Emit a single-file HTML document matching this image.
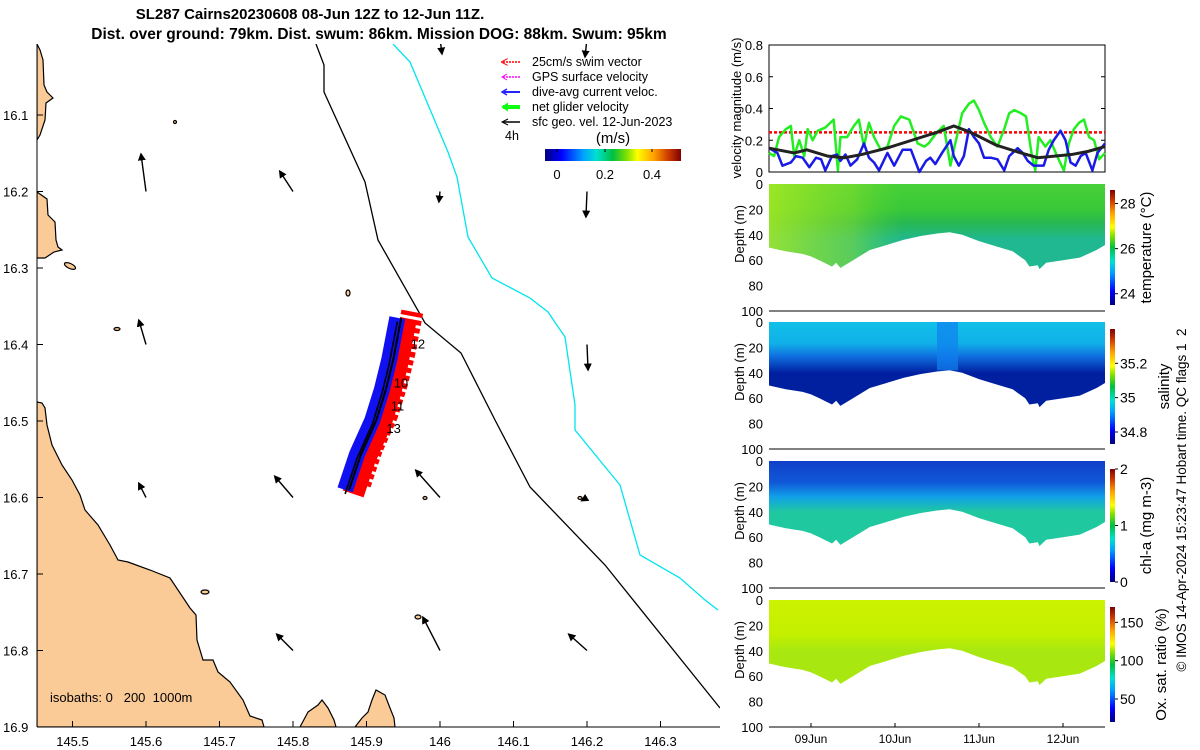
<!DOCTYPE html>
<html><head><meta charset="utf-8"><style>
html,body{margin:0;padding:0;background:#fff;}
svg{display:block;font-family:"Liberation Sans","DejaVu Sans",sans-serif;}
</style></head><body>
<svg id="fig" width="1200" height="750" viewBox="0 0 1200 750" xmlns="http://www.w3.org/2000/svg">
<defs>
<linearGradient id="jetH" x1="0" y1="0" x2="1" y2="0">
<stop offset="0" stop-color="#00007f"/><stop offset="0.12" stop-color="#0000ff"/><stop offset="0.28" stop-color="#00a0ff"/><stop offset="0.38" stop-color="#00e0d0"/><stop offset="0.5" stop-color="#00c040"/><stop offset="0.6" stop-color="#80e000"/><stop offset="0.68" stop-color="#ffff00"/><stop offset="0.8" stop-color="#ffa000"/><stop offset="0.9" stop-color="#d04000"/><stop offset="1" stop-color="#800000"/>
</linearGradient>
<linearGradient id="jetV" x1="0" y1="1" x2="0" y2="0">
<stop offset="0" stop-color="#00007f"/><stop offset="0.12" stop-color="#0000ff"/><stop offset="0.28" stop-color="#00a0ff"/><stop offset="0.38" stop-color="#00e0d0"/><stop offset="0.5" stop-color="#00c040"/><stop offset="0.6" stop-color="#80e000"/><stop offset="0.68" stop-color="#ffff00"/><stop offset="0.8" stop-color="#ffa000"/><stop offset="0.9" stop-color="#d04000"/><stop offset="1" stop-color="#800000"/>
</linearGradient>
<linearGradient id="gTemp" x1="0" y1="0" x2="0" y2="1"><stop offset="0" stop-color="#48d038"/><stop offset="0.3" stop-color="#38c838"/><stop offset="0.45" stop-color="#28b850"/><stop offset="0.65" stop-color="#20b890"/></linearGradient>
<linearGradient id="gTempH" x1="0" y1="0" x2="1" y2="0"><stop offset="0" stop-color="#b0ec20" stop-opacity="0.8"/><stop offset="0.25" stop-color="#90e028" stop-opacity="0.5"/><stop offset="0.4" stop-color="#60d830" stop-opacity="0"/><stop offset="1" stop-color="#60d830" stop-opacity="0"/></linearGradient>
<linearGradient id="gSal" x1="0" y1="0" x2="0" y2="1"><stop offset="0" stop-color="#10c0e8"/><stop offset="0.25" stop-color="#10b0e8"/><stop offset="0.4" stop-color="#1070e0"/><stop offset="0.6" stop-color="#0020a0"/></linearGradient>
<linearGradient id="gChl" x1="0" y1="0" x2="0" y2="1"><stop offset="0" stop-color="#1040c8"/><stop offset="0.25" stop-color="#1058d8"/><stop offset="0.42" stop-color="#10a0e8"/><stop offset="0.6" stop-color="#20c8a0"/></linearGradient>
<linearGradient id="gOx" x1="0" y1="0" x2="0" y2="1"><stop offset="0" stop-color="#ccf200"/><stop offset="0.4" stop-color="#c4f000"/><stop offset="0.6" stop-color="#a8e810"/></linearGradient>
<clipPath id="mapClip"><rect x="37" y="44" width="683" height="683"/></clipPath>
<marker id="ahK" markerWidth="8" markerHeight="8" refX="6" refY="4" orient="auto" markerUnits="userSpaceOnUse"><path d="M0,0 L8,4 L0,8 z" fill="#000"/></marker>
<marker id="ahR" markerWidth="7" markerHeight="7" refX="5" refY="3.5" orient="auto" markerUnits="userSpaceOnUse"><path d="M0,0 L7,3.5 L0,7" fill="none" stroke="#f00"/></marker>
</defs>

<text x="310" y="19" font-size="15" font-weight="bold" text-anchor="middle">SL287 Cairns20230608 08-Jun 12Z to 12-Jun 11Z.</text>
<text x="379" y="39" font-size="15.5" font-weight="bold" text-anchor="middle">Dist. over ground: 79km. Dist. swum: 86km. Mission DOG: 88km. Swum: 95km</text>

<g id="map">
<g clip-path="url(#mapClip)">
<g fill="#fbcb97" stroke="#000" stroke-width="1.2">
<path d="M37,44 L40,50 L43,60 L44,85 L47,92 L53,98 L46,103 L45,120 L40,135 L37,140 Z"/>
<path d="M37,192 L47,199 L48,215 L55,222 L56,240 L58,247 L62,250 L54,252 L45,258 L37,258 Z"/>
<ellipse cx="70" cy="266" rx="6" ry="2.5" transform="rotate(25 70 266)"/>
<path d="M37,402 L42,403 L45,408 L47,425 L52,445 L62,465 L72,480 L80,495 L85,510 L98,525 L110,545 L118,560 L128,562 L150,570 L170,578 L190,608 L196,615 L197,640 L203,660 L213,660 L218,672 L230,682 L243,700 L250,716 L262,720 L264,727 L37,727 Z"/>
<path d="M300,727 L308,712 L318,705 L322,700 L328,708 L334,720 L336,727 Z"/>
<path d="M355,727 L362,718 L368,712 L372,700 L376,690 L385,695 L390,708 L394,718 L395,727 Z"/>
<ellipse cx="205" cy="592" rx="4" ry="2"/><ellipse cx="175" cy="122" rx="1.5" ry="1.5"/><ellipse cx="348" cy="293" rx="2" ry="3"/><ellipse cx="117" cy="329" rx="3" ry="1.5"/><ellipse cx="418" cy="617" rx="3" ry="2"/><ellipse cx="425" cy="498" rx="2" ry="1.5"/><ellipse cx="580" cy="498" rx="2" ry="1.5"/>
</g>
<polyline fill="none" stroke="#000" stroke-width="1.3" points="316,44 324,65 324,92 365,182 378,240 425,323 461,353 495,420 530,487 605,565 720,708"/>
<polyline fill="none" stroke="#00e5ee" stroke-width="1.3" points="393,44 410,62 448,152 457,177 468,237 492,278 530,298 548,312 565,337 575,405 575,430 620,485 640,555 680,578 705,600 718,610"/>
<g id="geoArrows"></g>
<g id="track"></g>
</g>
<line x1="37" y1="44" x2="37" y2="727" stroke="#000"/>
<line x1="37" y1="727" x2="720" y2="727" stroke="#000"/>
<g id="mapTicks" font-size="13"></g>
<text x="50" y="702" font-size="13">isobaths: 0 &#160; 200 &#160;1000m</text>
<g font-size="12.5">
<g><line x1="520" y1="62" x2="503" y2="62" stroke="#f00" stroke-dasharray="2,1" stroke-width="1.5" marker-end="url(#ahR)"/><text x="532" y="66">25cm/s swim vector</text></g>
<g><line x1="520" y1="77" x2="503" y2="77" stroke="#f0f" stroke-dasharray="2,1" stroke-width="1.5"/><path d="M507,74 L502,77 L507,80" fill="none" stroke="#f0f"/><text x="532" y="81">GPS surface velocity</text></g>
<g><line x1="520" y1="92" x2="503" y2="92" stroke="#22f" stroke-width="2"/><path d="M507,89 L502,92 L507,95" fill="none" stroke="#22f" stroke-width="1.5"/><text x="532" y="96">dive-avg current veloc.</text></g>
<g><line x1="520" y1="107" x2="503" y2="107" stroke="#1f1" stroke-width="4"/><path d="M508,103 L502,107 L508,111" fill="#1f1" stroke="#1f1"/><text x="532" y="111">net glider velocity</text></g>
<g><line x1="520" y1="122" x2="503" y2="122" stroke="#000" stroke-width="1.5"/><path d="M508,119 L502,122 L508,125" fill="none" stroke="#000"/><text x="532" y="126">sfc geo. vel. 12-Jun-2023</text></g>
<text x="505" y="140">4h</text>
</g>
<text x="613" y="143" font-size="15" text-anchor="middle">(m/s)</text>
<rect x="545" y="149" width="136" height="12" fill="url(#jetH)"/>
<g font-size="13" text-anchor="middle">
<line x1="557" y1="149" x2="557" y2="152" stroke="#000"/><line x1="605" y1="149" x2="605" y2="152" stroke="#000"/><line x1="652" y1="149" x2="652" y2="152" stroke="#000"/>
<text x="557" y="179">0</text><text x="605" y="179">0.2</text><text x="652" y="179">0.4</text></g>
</g>

<g id="vel"></g>
<g id="sections"></g>
<text transform="translate(1186,500) rotate(-90)" font-size="13.5" text-anchor="middle">© IMOS 14-Apr-2024 15:23:47 Hobart time. QC flags 1 &#160;2</text>
</svg>
<script>
// ---------- data ----------
const mapLonTicks = [145.5,145.6,145.7,145.8,145.9,146,146.1,146.2,146.3];
const mapLatTicks = [16.1,16.2,16.3,16.4,16.5,16.6,16.7,16.8,16.9];
const geoLon = [145.6,145.8,146.0,146.2, 145.6,146.2, 145.6,145.8,146.0,146.2, 145.8,146.0,146.2, 146.0,146.2];
const geoLat = [16.2,16.2,16.2,16.2, 16.4,16.4, 16.6,16.6,16.6,16.6, 16.8,16.8,16.8, 16.0,16.0];
const geoU = [-0.033,-0.087,-0.007,-0.007, -0.047,0.007, -0.047,-0.12,-0.16,-0.033, -0.107,-0.113,-0.12, 0.013,-0.013];
const geoV = [0.247,0.133,-0.067,-0.167, 0.16,-0.167, 0.093,0.14,0.18,-0.02, 0.107,0.22,0.107, -0.1,-0.12];
const trackLon = [145.875,145.891,145.912,145.925,145.935,145.946];
const trackLat = [16.590,16.544,16.499,16.459,16.420,16.365];
const dayLabels = ['10','11','13','12'];
const dayLon = [145.937,145.933,145.927,145.96];
const dayLat = [16.456,16.486,16.516,16.405];

const velTicks = [0,0.2,0.4,0.6,0.8];
const greenT = [8.50,8.56,8.62,8.70,8.76,8.80,8.86,8.92,8.96,9.02,9.08,9.17,9.27,9.32,9.35,9.43,9.51,9.57,9.63,9.69,9.75,9.83,9.91,9.99,10.07,10.17,10.27,10.35,10.40,10.50,10.58,10.66,10.70,10.80,10.88,10.94,11.00,11.06,11.14,11.22,11.30,11.36,11.42,11.50,11.56,11.63,11.67,11.71,11.79,11.85,11.93,12.01,12.07,12.13,12.19,12.25,12.31,12.37,12.43,12.50];
const greenV = [0.12,0.10,0.22,0.27,0.29,0.10,0.20,0.10,0.27,0.20,0.26,0.28,0.33,0.01,0.22,0.22,0.29,0.33,0.16,0.31,0.22,0.14,0.16,0.29,0.35,0.33,0.18,0.16,0.18,0.25,0.29,0.04,0.14,0.37,0.43,0.45,0.39,0.31,0.22,0.16,0.27,0.37,0.39,0.37,0.35,0.10,0.01,0.22,0.16,0.20,0.10,0.01,0.18,0.27,0.31,0.33,0.22,0.20,0.08,0.12];
const blueT = [8.50,8.60,8.66,8.76,8.82,8.90,8.98,9.06,9.12,9.17,9.25,9.31,9.35,9.41,9.47,9.55,9.63,9.69,9.75,9.81,9.91,9.99,10.09,10.19,10.29,10.37,10.42,10.48,10.56,10.66,10.70,10.76,10.82,10.88,10.94,11.00,11.06,11.14,11.22,11.30,11.36,11.46,11.52,11.58,11.65,11.77,11.83,11.89,11.97,12.03,12.09,12.15,12.21,12.27,12.35,12.41,12.50];
const blueV = [0.15,0.12,0.04,0.06,0.10,0.09,0.03,0.09,0.08,0.01,0.10,0.11,0.07,0.11,0.04,0.08,0.18,0.09,0.06,0.01,0.12,0.04,0.14,0.14,0.00,0.07,0.09,0.05,0.12,0.20,0.10,0.04,0.10,0.27,0.22,0.18,0.09,0.09,0.08,0.01,0.10,0.15,0.12,0.07,0.04,0.04,0.14,0.20,0.26,0.20,0.06,0.04,0.10,0.12,0.01,0.12,0.18];
const geoT = [8.5,8.8,8.95,9.2,9.4,9.6,9.9,10.2,10.5,10.7,10.9,11.2,11.5,11.7,11.9,12.1,12.3,12.5];
const geoSpeed = [0.15,0.12,0.14,0.10,0.09,0.11,0.15,0.20,0.25,0.29,0.25,0.17,0.12,0.09,0.10,0.11,0.13,0.16];
const swimSpeed = [0.25,0.25];
const swimT = [8.5,12.5];

const bottomT = [8.5,8.7,8.9,9.0,9.1,9.25,9.3,9.35,9.5,9.7,9.9,10.1,10.3,10.5,10.65,10.8,11.0,11.2,11.4,11.55,11.6,11.7,11.72,11.8,12.0,12.2,12.4,12.5];
const bottomD = [50,53,55,57,60,65,62,66,60,52,48,44,41,39,38,40,45,49,53,60,65,64,67,62,60,58,52,48];
const depthTicks = [0,20,40,60,80,100];
const dateTicks = [9,10,11,12];
const dateLabels = ['09Jun','10Jun','11Jun','12Jun'];
const tempTicks = [28,26,24]; const tempRange = [23.5,28.6];
const salTicks = [35.2,35,34.8]; const salRange = [34.73,35.4];
const chlTicks = [2,1,0]; const chlRange = [0,2];
const oxTicks = [150,100,50]; const oxRange = [20,170];

// ---------- helpers ----------
const NS='http://www.w3.org/2000/svg';
function mk(tag, attrs, parent){const e=document.createElementNS(NS,tag);for(const k in attrs)e.setAttribute(k,attrs[k]);parent.appendChild(e);return e;}
const lonX = lon => 440 + (lon-146)*735;
const latY = lat => 115 + (lat-16.1)*765;

// map ticks
const mt=document.getElementById('mapTicks');
mapLonTicks.forEach(l=>{const x=lonX(l);
 const t=mk('line',{x1:x,y1:727,x2:x,y2:721,stroke:'#000'},mt);
 
 
 const s=mk('text',{x:x,y:746,'text-anchor':'middle'},mt);s.textContent=String(l);
 
 });
mapLatTicks.forEach(l=>{const y=latY(l);
 const t=mk('line',{x1:37,y1:y,x2:43,y2:y,stroke:'#000'},mt);
 
 
 const s=mk('text',{x:3,y:y+5},mt);s.textContent=l.toFixed(1);
 
 });

// geo arrows
const ga=document.getElementById('geoArrows');
geoLon.forEach((lon,i)=>{const x=lonX(lon),y=latY(geoLat[i]);
 const a=mk('line',{x1:x,y1:y,x2:x+geoU[i]*150,y2:y-geoV[i]*150,stroke:'#000','stroke-width':1.4,'marker-end':'url(#ahK)'},ga);
 
 });

// glider track
const tr=document.getElementById('track');
const tp=trackLon.map((l,i)=>[lonX(l),latY(trackLat[i])]);
const off=(dx,dy)=>tp.map(p=>(p[0]+dx)+','+(p[1]+dy)).join(' ');
const red=mk('polyline',{points:off(12,-6),fill:'none',stroke:'#f00','stroke-width':22,'stroke-linejoin':'round','stroke-dasharray':'5,3'},tr);


const red2=mk('polyline',{points:off(5,4),fill:'none',stroke:'#f00','stroke-width':22,'stroke-linejoin':'round'},tr);


const blue=mk('polyline',{points:off(-3,0),fill:'none',stroke:'#1010f0','stroke-width':16,'stroke-linejoin':'round'},tr);


const blk=mk('polyline',{points:off(1,0),fill:'none',stroke:'#000','stroke-width':2},tr);


const blk2=mk('polyline',{points:off(-3,4),fill:'none',stroke:'#000','stroke-width':1.6},tr);


dayLabels.forEach((d,i)=>{const t=mk('text',{x:lonX(dayLon[i]),y:latY(dayLat[i]),'font-size':13},tr);t.textContent=d;
 
 });

// ---------- right panels ----------
const X0=769,X1=1105;
const tX=t=>X0+(t-8.5)/4*(X1-X0);
const vel=document.getElementById('vel');
const VT=45,VB=172;
const vY=v=>VB-v/0.8*(VB-VT);
mk('rect',{x:X0,y:VT,width:X1-X0,height:VB-VT,fill:'#fff',stroke:'#000'},vel);
velTicks.forEach(v=>{const y=vY(v);
 mk('line',{x1:X0,y1:y,x2:X0+4,y2:y,stroke:'#000'},vel);mk('line',{x1:X1,y1:y,x2:X1-4,y2:y,stroke:'#000'},vel);
 const s=mk('text',{x:763,y:y+5,'font-size':13,'text-anchor':'end'},vel);s.textContent=v===0?'0':v.toFixed(1);
 
 });
const vt=mk('text',{transform:'translate(741,108) rotate(-90)','font-size':13,'text-anchor':'middle'},vel);vt.textContent='velocity magnitude (m/s)';


const pts=(T,V)=>T.map((t,i)=>tX(t)+','+vY(V[i])).join(' ');
const sw=mk('polyline',{points:pts(swimT,swimSpeed),fill:'none',stroke:'#f00','stroke-width':2.5,'stroke-dasharray':'3,2'},vel);


const gl=mk('polyline',{points:pts(greenT,greenV),fill:'none',stroke:'#22ee22','stroke-width':2.5,'stroke-linejoin':'round'},vel);


const bl=mk('polyline',{points:pts(blueT,blueV),fill:'none',stroke:'#1a1ae8','stroke-width':2.5,'stroke-linejoin':'round'},vel);


const kl=mk('polyline',{points:pts(geoT,geoSpeed),fill:'none',stroke:'#222','stroke-width':3},vel);



const sec=document.getElementById('sections');
const panels=[
 {top:184,fill:'url(#gTemp)',name:'temperature',title:'temperature (°C)',tx:1151,ticks:tempTicks,range:tempRange,cb:[190,305],fmt:v=>String(v)},
 {top:322,fill:'url(#gSal)',name:'salinity',title:'salinity',tx:1169,ticks:salTicks,range:salRange,cb:[329,444],fmt:v=>v===35?'35':v.toFixed(1)},
 {top:461,fill:'url(#gChl)',name:'chlorophyll',title:'chl-a (mg m-3)',tx:1151,ticks:chlTicks,range:chlRange,cb:[469,582],fmt:v=>String(v)},
 {top:600,fill:'url(#gOx)',name:'oxygen',title:'Ox. sat. ratio (%)',tx:1166,ticks:oxTicks,range:oxRange,cb:[607,722],fmt:v=>String(v)}
];
panels.forEach((p,pi)=>{
 const g=mk('g',{},sec);
 
 
 const dY=d=>p.top+d/100*127;
 const poly=[[tX(8.5),dY(0)],[tX(12.5),dY(0)]];
 for(let i=bottomT.length-1;i>=0;i--)poly.push([tX(bottomT[i]),dY(bottomD[i])]);
 const ps=poly.map(q=>q.join(',')).join(' ');
 const f=mk('polygon',{points:ps,fill:p.fill},g);
 
 
 if(pi===0){mk('polygon',{points:ps,fill:'url(#gTempH)'},g);}
 if(pi===1){mk('rect',{x:tX(10.5),y:dY(0),width:tX(10.75)-tX(10.5),height:dY(38)-dY(0),fill:'#1080f0',opacity:0.7},g);}
 mk('line',{x1:X0,y1:dY(100),x2:X1,y2:dY(100),stroke:'#000'},g);
 depthTicks.forEach(d=>{const s=mk('text',{x:763,y:dY(d)+5,'font-size':13,'text-anchor':'end'},g);s.textContent=String(d);
  
  });
 const yt=mk('text',{transform:'translate(744,'+(p.top+50)+') rotate(-90)','font-size':13,'text-anchor':'middle'},g);yt.textContent='Depth (m)';
 
 
 const cb=mk('rect',{x:1110,y:p.cb[0],width:5,height:p.cb[1]-p.cb[0],fill:'url(#jetV)'},g);
 
 
 p.ticks.forEach(v=>{const y=p.cb[1]-(v-p.range[0])/(p.range[1]-p.range[0])*(p.cb[1]-p.cb[0]);
  mk('line',{x1:1115,y1:y,x2:1118,y2:y,stroke:'#000'},g);
  const s=mk('text',{x:1120,y:y+5,'font-size':14},g);s.textContent=p.fmt(v);
  
  });
 const ct=mk('text',{transform:'translate('+p.tx+','+((p.cb[0]+p.cb[1])/2)+') rotate(-90)','font-size':15,'text-anchor':'middle'},g);ct.textContent=p.title;
 
 
 if(pi===3){dateTicks.forEach((d,i)=>{const x=tX(d);mk('line',{x1:x,y1:dY(100),x2:x,y2:dY(100)-4,stroke:'#000'},g);
  const s=mk('text',{x:x,y:743,'font-size':12,'text-anchor':'middle'},g);s.textContent=dateLabels[i];
  
  });}
});
</script>
</body></html>
